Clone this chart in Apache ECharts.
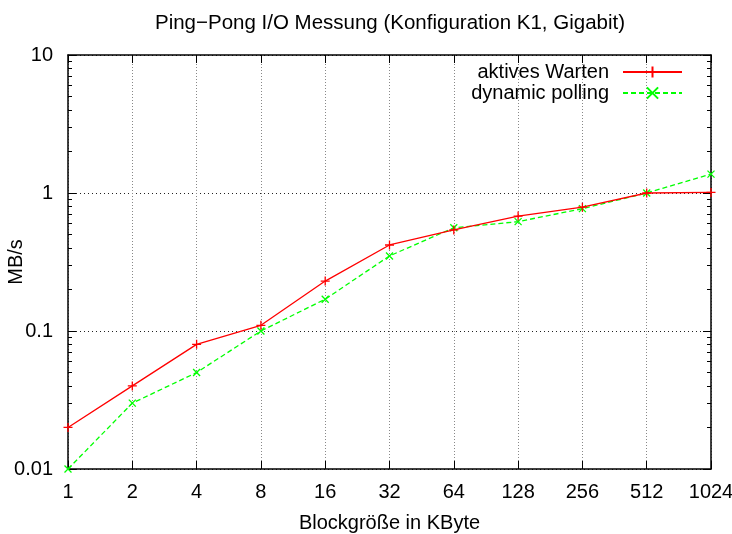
<!DOCTYPE html>
<html>
<head>
<meta charset="utf-8">
<script src="https://cdn.jsdelivr.net/npm/echarts@6/dist/echarts.min.js"></script>
<style>html,body{margin:0;padding:0;background:#fff}#c{width:732px;height:534px}</style>
</head>
<body>
<div id="c"></div>
<script>
const titleText = 'Ping\u2212Pong I/O Messung (Konfiguration K1, Gigabit)';
const xName = 'Blockgröße in KByte';
const yName = 'MB/s';
const categories = ['1', '2', '4', '8', '16', '32', '64', '128', '256', '512', '1024'];
const aktivesWarten = [0.02, 0.04, 0.08, 0.11, 0.23, 0.42, 0.54, 0.68, 0.79, 1.0, 1.01];
const dynamicPolling = [0.01, 0.03, 0.05, 0.1, 0.17, 0.35, 0.56, 0.62, 0.77, 1.0, 1.37];
const yMajorTicks = [0.01, 0.1, 1, 10];
const yMinorTicks = [];
for (const d of [0.01, 0.1, 1]) for (let k = 2; k <= 9; k++) yMinorTicks.push(+(d * k).toPrecision(3));

const FONT = 'Liberation Sans';
const FS = 20;
const base = { type: 'log', min: 0.01, max: 10, logBase: 10 };
function yAx(pos, major, labels) {
  return Object.assign({}, base, {
    position: pos,
    axisLine: { show: major, lineStyle: { color: '#000', width: 1.5 } },
    axisTick: { show: true, inside: true, length: major ? 8 : 4, lineStyle: { color: '#000', width: 1 },
                customValues: major ? yMajorTicks : yMinorTicks },
    axisLabel: { show: labels, margin: 15, color: '#000', fontFamily: FONT, fontSize: FS,
                 customValues: yMajorTicks, formatter: v => String(+v.toPrecision(3)) },
    splitLine: { show: major && labels, lineStyle: { color: '#222', type: [1, 3], width: 1 } },
    name: labels ? yName : '', nameLocation: 'middle', nameGap: 42, nameRotate: 90, nameMoveOverlap: false,
    nameTextStyle: { color: '#000', fontFamily: FONT, fontSize: FS }
  });
}
const chart = echarts.init(document.getElementById('c'), null, { renderer: 'canvas' });
chart.setOption({
  animation: false,
  backgroundColor: '#fff',
  title: { text: titleText, left: 390, top: 13, textAlign: 'center', padding: 0,
           textStyle: { fontFamily: FONT, fontSize: 20.5, fontWeight: 'normal', color: '#000' } },
  grid: { left: 68, right: 21, top: 55, bottom: 65, containLabel: false, outerBoundsMode: 'none' },
  legend: {
    orient: 'vertical', right: 49, top: 61.5, align: 'right', itemWidth: 59, itemHeight: 14, itemGap: 0,
    padding: 0,
    textStyle: { fontFamily: FONT, fontSize: FS, lineHeight: 21, color: '#000', padding: [0, 9, 0, 0] },
    data: ['aktives Warten', 'dynamic polling']
  },
  xAxis: [
    { type: 'category', data: categories, boundaryGap: false, position: 'bottom',
      axisLine: { lineStyle: { color: '#000', width: 1.5 } },
      axisTick: { inside: true, length: 8, alignWithLabel: true, lineStyle: { color: '#000' } },
      axisLabel: { margin: 13, color: '#000', fontFamily: FONT, fontSize: FS },
      splitLine: { show: true, lineStyle: { color: '#888', type: [1, 2], width: 1 } },
      name: xName, nameLocation: 'middle', nameGap: 44, nameMoveOverlap: false,
      nameTextStyle: { color: '#000', fontFamily: FONT, fontSize: FS } },
    { type: 'category', data: categories, boundaryGap: false, position: 'top',
      axisLine: { lineStyle: { color: '#000', width: 1.5 } },
      axisTick: { inside: true, length: 8, lineStyle: { color: '#000' } },
      axisLabel: { show: false }, splitLine: { show: false } }
  ],
  yAxis: [yAx('left', true, true), yAx('left', false, false), yAx('right', true, false), yAx('right', false, false)],
  series: [
    { name: 'aktives Warten', type: 'line', data: aktivesWarten, xAxisIndex: 0, yAxisIndex: 0,
      color: '#ff0000', lineStyle: { color: '#ff0000', width: 1.3 },
      symbol: 'path://M5,0L5,10M0,5L10,5', symbolSize: 9, showAllSymbol: true,
      itemStyle: { color: '#ff0000', borderColor: '#ff0000', borderWidth: 1.3 }, z: 3 },
    { name: 'dynamic polling', type: 'line', data: dynamicPolling, xAxisIndex: 0, yAxisIndex: 0,
      color: '#00ff00', lineStyle: { color: '#00ff00', width: 1.3, type: [5, 3] },
      symbol: 'path://M0,0L10,10M10,0L0,10', symbolSize: 7, showAllSymbol: true,
      itemStyle: { color: '#00ff00', borderColor: '#00ff00', borderWidth: 1.3 }, z: 2 }
  ]
});
</script>
</body>
</html>
